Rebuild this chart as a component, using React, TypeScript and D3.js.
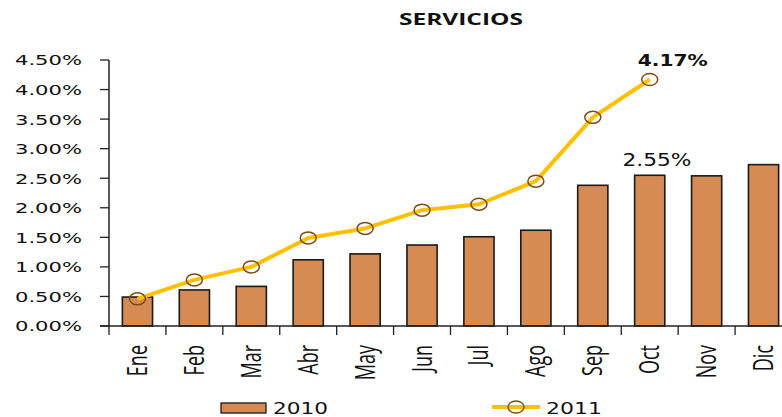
import React from "react";
import * as d3 from "d3";

const months = ["Ene", "Feb", "Mar", "Abr", "May", "Jun", "Jul", "Ago", "Sep", "Oct", "Nov", "Dic"];
const values2010 = [0.49, 0.61, 0.67, 1.12, 1.22, 1.37, 1.51, 1.62, 2.38, 2.55, 2.54, 2.73];
const months2011 = ["Ene", "Feb", "Mar", "Abr", "May", "Jun", "Jul", "Ago", "Sep", "Oct"];
const values2011 = [0.46, 0.78, 1.0, 1.49, 1.65, 1.96, 2.06, 2.45, 3.53, 4.17];
const yTicks = [0, 0.5, 1, 1.5, 2, 2.5, 3, 3.5, 4, 4.5];

const W = 782;
const H = 417;
const left = 109;
const right = 792;
const top = 60;
const bottom = 326;

export default function App() {
  const x = d3.scaleBand<string>().domain(months).range([left, right]).paddingInner(0.47).paddingOuter(0.235);
  const y = d3.scaleLinear().domain([0, 4.5]).range([bottom, top]);
  const cx = (m: string) => (x(m) as number) + x.bandwidth() / 2;
  const line = d3
    .line<number>()
    .x((_, i) => cx(months2011[i]))
    .y((d) => y(d));
  const step = x.step();

  return (
    <svg width={W} height={H} style={{ position: "absolute", left: 0, top: 0, display: "block", background: "#fff" }}>
      <rect x={0} y={0} width={W} height={H} fill="#ffffff" />
      <text x={461} y={25} textAnchor="middle" fontFamily="Open Sans" fontWeight="bold" fontSize={16} textLength={124} lengthAdjust="spacingAndGlyphs" fill="#111">
        SERVICIOS
      </text>

      {/* y tick labels */}
      {yTicks.map((t) => (
        <g key={t}>
          <line x1={100} x2={left} y1={y(t)} y2={y(t)} stroke="#222" strokeWidth={1.3} />
          <text x={82} y={y(t) + 5.4} textAnchor="end" fontFamily="DejaVu Sans" fontSize={14.7} textLength={67} lengthAdjust="spacingAndGlyphs" fill="#111">
            {t.toFixed(2) + "%"}
          </text>
        </g>
      ))}

      {/* bars */}
      {months.map((m, i) => (
        <rect key={m} x={x(m)} y={y(values2010[i])} width={x.bandwidth()} height={bottom - y(values2010[i])} fill="#D58B53" stroke="#1a1a1a" strokeWidth={1.6} />
      ))}

      {/* axes */}
      <line x1={left} x2={left} y1={top} y2={bottom} stroke="#222" strokeWidth={1.5} />
      <line x1={100} x2={W} y1={bottom} y2={bottom} stroke="#222" strokeWidth={1.5} />
      {months.map((m, i) => (
        <line key={"t" + m} x1={left + i * step} x2={left + i * step} y1={bottom} y2={bottom + 9} stroke="#222" strokeWidth={1.3} />
      ))}

      {/* line 2011 */}
      <path d={line(values2011) || ""} fill="none" stroke="#FFC000" strokeWidth={4} strokeLinejoin="round" />
      {values2011.map((v, i) => (
        <ellipse key={"c" + i} cx={cx(months2011[i])} cy={y(v)} rx={8} ry={6} fill="none" stroke="#7F4A12" strokeWidth={1.5} />
      ))}

      {/* data labels */}
      <text x={cx("Oct") + 23} y={66} textAnchor="middle" fontFamily="DejaVu Sans" fontWeight="bold" fontSize={15} textLength={70} lengthAdjust="spacingAndGlyphs" fill="#111">
        4.17%
      </text>
      <text x={657} y={166} textAnchor="middle" fontFamily="DejaVu Sans" fontSize={17} textLength={69} lengthAdjust="spacingAndGlyphs" fill="#111">
        2.55%
      </text>

      {/* category labels */}
      {months.map((m) => (
        <g key={"l" + m} transform={`translate(${cx(m) + 9.5},345)`}>
          <text transform="scale(1.5,1) rotate(-90)" textAnchor="end" fontFamily="Open Sans" fontSize={18} fill="#111">
            {m}
          </text>
        </g>
      ))}

      {/* legend */}
      <rect x={221} y={403} width={45} height={10} fill="#D58B53" stroke="#1a1a1a" strokeWidth={1.3} />
      <text x={273} y={413.5} fontFamily="DejaVu Sans" fontSize={16} textLength={55} lengthAdjust="spacingAndGlyphs" fill="#111">
        2010
      </text>
      <line x1={492} x2={540} y1={407} y2={407} stroke="#FFC000" strokeWidth={4} />
      <ellipse cx={516} cy={407} rx={8} ry={6} fill="none" stroke="#7F4A12" strokeWidth={1.5} />
      <text x={546} y={413.5} fontFamily="DejaVu Sans" fontSize={16} textLength={56} lengthAdjust="spacingAndGlyphs" fill="#111">
        2011
      </text>
    </svg>
  );
}
